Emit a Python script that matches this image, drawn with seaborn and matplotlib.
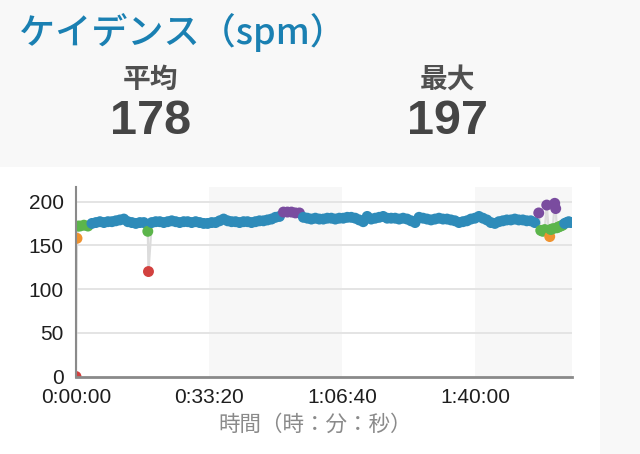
import matplotlib
matplotlib.use("Agg")
import matplotlib.pyplot as plt
import matplotlib.ticker as mticker
import seaborn as sns
import pandas as pd
import numpy as np

# ---------------- data ----------------
title_text = "ケイデンス（spm）"
stat_labels = ["平均", "最大"]
stat_values = ["178", "197"]
x_label = "時間（時：分：秒）"

time_s = [
    0, 15, 30, 60, 120, 180, 240, 300, 360, 420, 480, 540, 600, 660, 720, 780,
    840, 900, 960, 1020, 1080, 1090, 1140, 1200, 1260, 1320, 1380, 1440, 1500,
    1560, 1620, 1680, 1740, 1800, 1860, 1920, 1980, 2040, 2100, 2160, 2220,
    2280, 2340, 2400, 2460, 2520, 2580, 2640, 2700, 2760, 2820, 2880, 2940,
    3000, 3060, 3120, 3180, 3240, 3300, 3360, 3420, 3480, 3540, 3600, 3660,
    3720, 3780, 3840, 3900, 3960, 4020, 4080, 4140, 4200, 4260, 4320, 4380,
    4440, 4500, 4560, 4620, 4680, 4740, 4800, 4860, 4920, 4980, 5040, 5100,
    5160, 5220, 5280, 5340, 5400, 5460, 5520, 5580, 5640, 5700, 5760, 5820,
    5880, 5940, 6000, 6060, 6120, 6180, 6240, 6300, 6360, 6420, 6480, 6540,
    6600, 6660, 6720, 6780, 6840, 6900, 6960, 6990, 7020, 7050, 7080, 7110,
    7125, 7140, 7170, 7200, 7215, 7230, 7260, 7290, 7320, 7350, 7380, 7410,
    7440,
]
cadence_spm = [
    0, 158, 172, 172, 173, 172, 175, 176, 177, 176, 177, 177, 178, 179, 180, 177,
    176, 175, 176, 176, 166, 120, 176, 177, 177, 176, 177, 178, 177,
    176, 177, 177, 176, 177, 176, 175, 175, 176, 176, 178, 180,
    178, 177, 177, 176, 177, 177, 176, 177, 178, 178, 179, 180,
    182, 183, 188, 188, 188, 187, 187, 182, 181, 180, 181, 180,
    180, 181, 181, 180, 181, 181, 182, 182, 181, 179, 177, 183,
    180, 181, 182, 183, 181, 181, 181, 180, 181, 180, 178, 176,
    182, 181, 180, 179, 180, 181, 180, 180, 179, 178, 176, 177,
    178, 180, 181, 183, 181, 179, 176, 175, 177, 178, 179, 179,
    180, 179, 179, 178, 178, 176, 187, 167, 166, 168, 196, 167,
    160, 168, 169, 198, 192, 170, 171, 172, 173, 175, 176, 177,
    176,
]

zone_edges = [-1, 152.5, 163.5, 173.5, 183.5, 300]
zone_names = ["red", "orange", "green", "blue", "purple"]
zone_colors = {"red": "#d2413f", "orange": "#ef922f", "green": "#5cb54b",
               "blue": "#2e8bb9", "purple": "#7a4c9f"}

x_ticks = [0, 2000, 4000, 6000]
y_ticks = [0, 50, 100, 150, 200]
x_max = 7460
y_max = 217

df = pd.DataFrame({"time": time_s, "cadence": cadence_spm})
df["zone"] = pd.cut(df["cadence"], bins=zone_edges, labels=zone_names).astype(str)

# ---------------- style ----------------
sns.set_theme(style="white")
plt.rcParams["font.family"] = ["Liberation Sans", "Noto Sans CJK JP", "DejaVu Sans"]

fig = plt.figure(figsize=(6.4, 4.54), dpi=100)
fig.patch.set_facecolor("#f8f8f8")
# white chart panel (background axes)
bg = fig.add_axes([0, 0, 600 / 640, (454 - 167) / 454], zorder=-5)
bg.set_facecolor("white")
bg.set_axis_off()
bg.add_patch(plt.Rectangle((0, 0), 1, 1, transform=bg.transAxes,
                           facecolor="white", edgecolor="none"))

ax = fig.add_axes([76 / 640, (454 - 376.5) / 454, 496 / 640, (376.5 - 186.7) / 454],
                  zorder=1)
ax.set_facecolor("none")

# alternating bands
ax.axvspan(2000, 4000, color="#f7f7f7", zorder=0, lw=0)
ax.axvspan(6000, x_max, color="#f7f7f7", zorder=0, lw=0)

for yv in y_ticks[1:]:
    ax.axhline(yv, color="#e4e4e4", lw=1.4, zorder=1)

ax.plot(df["time"], df["cadence"], color="#dcdcdc", lw=1.6, zorder=2)
sns.scatterplot(data=df, x="time", y="cadence", hue="zone", palette=zone_colors,
                s=62, linewidth=0, legend=False, ax=ax, zorder=3)

ax.set_xlim(0, x_max)
ax.set_ylim(0, y_max)
ax.set_xticks(x_ticks)
ax.set_yticks(y_ticks)


def hms(v, pos=None):
    v = int(round(v))
    return f"{v // 3600}:{(v % 3600) // 60:02d}:{v % 60:02d}"


ax.xaxis.set_major_formatter(mticker.FuncFormatter(hms))
ax.tick_params(axis="both", length=0, labelsize=15, colors="#1e1e1e")
ax.tick_params(axis="x", pad=8.5)
ax.tick_params(axis="y", pad=9)
ax.set_xlabel("")
ax.set_ylabel("")
for lab in ax.get_xticklabels() + ax.get_yticklabels():
    lab.set_fontfamily("Liberation Sans")

for s in ["top", "right"]:
    ax.spines[s].set_visible(False)
ax.spines["left"].set_color("#8a8a8a")
ax.spines["left"].set_linewidth(1.5)
ax.spines["bottom"].set_color("#8a8a8a")
ax.spines["bottom"].set_linewidth(2.0)
ax.spines["left"].set_zorder(4)
ax.spines["bottom"].set_zorder(4)

# texts
fig.text(19 / 640, 1 - 33 / 454, title_text, fontsize=26, color="#1a80b2",
         weight="medium", family=["Noto Sans CJK JP", "DejaVu Sans"],
         ha="left", va="center")
stat_x = [151 / 640, 448 / 640]
for xs, lab, val in zip(stat_x, stat_labels, stat_values):
    fig.text(xs, 1 - 80 / 454, lab, fontsize=20, color="#505050", weight="bold",
             family=["Noto Sans CJK JP", "DejaVu Sans"], ha="center", va="center")
    fig.text(xs, 1 - 122 / 454, val, fontsize=35, color="#454545", weight="bold",
             family=["Liberation Sans", "DejaVu Sans"], ha="center", va="center")

fig.text(315 / 640, 1 - 425 / 454, x_label, fontsize=15.5, color="#8a8a8a",
         family=["Noto Sans CJK JP", "DejaVu Sans"], ha="center", va="center")

fig.savefig("out.png", dpi=100, facecolor=fig.get_facecolor())
